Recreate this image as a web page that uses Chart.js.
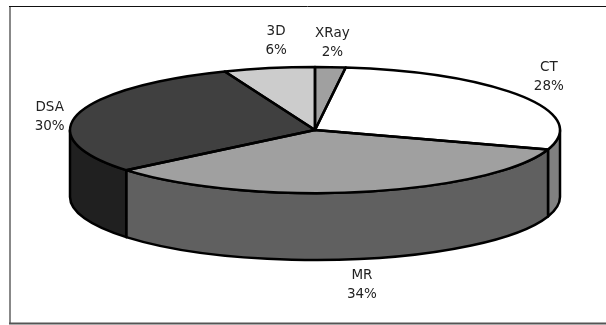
<!DOCTYPE html>
<html>
<head>
<meta charset="utf-8">
<title>Modalities</title>
<script src="https://cdn.jsdelivr.net/npm/chart.js@4/dist/chart.umd.min.js"></script>
<style>
  html, body { margin: 0; padding: 0; background: #fff; }
  #wrap { position: relative; width: 606px; height: 325px; }
</style>
</head>
<body>
<div id="wrap"><canvas id="pieChart" width="606" height="325"></canvas></div>
<script>
'use strict';

// ******* DATA *******
let categories = ['XRay', 'CT', 'MR', 'DSA', '3D'];
let shares = [2, 28, 34, 30, 6];

// ******* COLORS *******
let topColors = ['#a0a0a0', '#ffffff', '#a0a0a0', '#404040', '#cccccc'];
let wallColors = ['#808080', '#808080', '#606060', '#202020', '#666666'];

// label centre relative to the rim point at the middle of each slice
let labelOffsets = [[2, -24], [27, -19], [1, 26], [-28, 3], [7, -27]];

// ******* TILT *******
let squash = 63 / 245;
let depth = 67;
let lineHeight = 19;
let outlineWidth = 2.5;

function rimPath(ctx, arc, from, to) {
  ctx.ellipse(arc.x, arc.y, arc.outerRadius, arc.outerRadius * squash, 0, from, to);
}

// side walls go under the top face, only the front half can be seen
function drawWalls(chart) {
  let ctx = chart.ctx;
  let arcs = chart.getDatasetMeta(0).data;
  ctx.save();
  ctx.lineWidth = outlineWidth;
  ctx.lineJoin = 'round';
  ctx.strokeStyle = '#000';
  for (let i = 0; i < arcs.length; i++) {
    let from = Math.max(arcs[i].startAngle, 0);
    let to = Math.min(arcs[i].endAngle, Math.PI);
    if (from >= to) {
      continue;
    }
    let a = arcs[i];
    let r = a.outerRadius;
    ctx.beginPath();
    rimPath(ctx, a, from, to);
    ctx.lineTo(a.x + r * Math.cos(to), a.y + r * squash * Math.sin(to) + depth);
    ctx.ellipse(a.x, a.y + depth, r, r * squash, 0, to, from, true);
    ctx.closePath();
    ctx.fillStyle = wallColors[i];
    ctx.fill();
    ctx.stroke();
  }
  ctx.restore();
}

// outlines are stroked after the transform is gone so they keep an even width
function drawOutlines(chart) {
  let ctx = chart.ctx;
  let arcs = chart.getDatasetMeta(0).data;
  ctx.save();
  ctx.lineWidth = outlineWidth;
  ctx.lineJoin = 'round';
  ctx.strokeStyle = '#000';
  for (let i = 0; i < arcs.length; i++) {
    let a = arcs[i];
    ctx.beginPath();
    ctx.moveTo(a.x, a.y);
    rimPath(ctx, a, a.startAngle, a.endAngle);
    ctx.closePath();
    ctx.stroke();
  }
  ctx.restore();
}

function drawLabels(chart) {
  let ctx = chart.ctx;
  let arcs = chart.getDatasetMeta(0).data;
  ctx.save();
  ctx.font = '13.5px "DejaVu Sans"';
  ctx.fillStyle = '#222';
  ctx.textAlign = 'center';
  ctx.textBaseline = 'middle';
  for (let i = 0; i < arcs.length; i++) {
    let a = arcs[i];
    let mid = (a.startAngle + a.endAngle) / 2;
    let x = a.x + a.outerRadius * Math.cos(mid) + labelOffsets[i][0];
    let y = a.y + a.outerRadius * squash * Math.sin(mid);
    // walls push the front labels down
    if (Math.sin(mid) > 0.5) {
      y += depth;
    }
    y += labelOffsets[i][1];
    ctx.fillText(categories[i], x, y - lineHeight / 2);
    ctx.fillText(shares[i] + '%', x, y + lineHeight / 2);
  }
  ctx.restore();
}

// frame has no right edge
function drawFrame(chart) {
  let ctx = chart.ctx;
  ctx.save();
  ctx.fillStyle = '#fff';
  ctx.fillRect(0, 0, chart.width, chart.height);
  ctx.lineWidth = 2;
  ctx.strokeStyle = '#888';
  ctx.beginPath();
  ctx.moveTo(10, 6);
  ctx.lineTo(10, 324);
  ctx.stroke();
  ctx.strokeStyle = '#555';
  ctx.beginPath();
  ctx.moveTo(9, 323.5);
  ctx.lineTo(606, 323.5);
  ctx.stroke();
  ctx.lineWidth = 1;
  ctx.strokeStyle = '#111';
  ctx.beginPath();
  ctx.moveTo(9, 6.5);
  ctx.lineTo(606, 6.5);
  ctx.stroke();
  ctx.restore();
}

let tiltedPie = {
  id: 'tiltedPie',
  beforeDraw: drawFrame,
  beforeDatasetsDraw(chart) {
    drawWalls(chart);
    let a = chart.getDatasetMeta(0).data[0];
    chart.ctx.save();
    chart.ctx.translate(a.x, a.y);
    chart.ctx.scale(1, squash);
    chart.ctx.translate(-a.x, -a.y);
  },
  afterDatasetsDraw(chart) {
    chart.ctx.restore();
    drawOutlines(chart);
    drawLabels(chart);
  }
};

// ******* CHART *******
new Chart(document.getElementById('pieChart'), {
  type: 'pie',
  data: {
    labels: categories,
    datasets: [{
      data: shares,
      backgroundColor: topColors,
      borderWidth: 0,
      clip: false
    }]
  },
  options: {
    responsive: false,
    animation: false,
    radius: 245,
    layout: { padding: { left: 24, bottom: 65 } },
    plugins: {
      legend: { display: false },
      tooltip: { enabled: false }
    }
  },
  plugins: [tiltedPie]
});
</script>
</body>
</html>
